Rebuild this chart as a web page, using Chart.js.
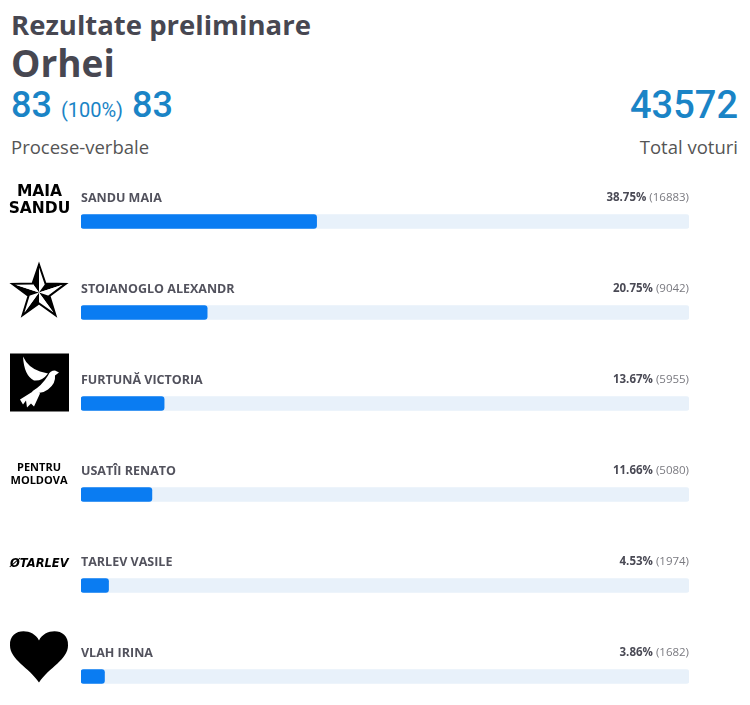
<!DOCTYPE html>
<html>
<head>
<meta charset="utf-8">
<script src="https://cdn.jsdelivr.net/npm/chart.js@4"></script>
<style>
  html, body { margin:0; padding:0; width:750px; height:705px; overflow:hidden; background:#fff; }
  .t { position:absolute; white-space:nowrap; line-height:1; }
  #title { left:11px; top:6px; font:bold 27.5px "Open Sans", sans-serif; color:#474751; }
  #place { left:11px; top:37px; font:bold 37px "Open Sans", sans-serif; color:#474751; }
  #counted { left:11px; top:84px; font:500 36px Roboto, sans-serif; color:#1a84c6; }
  #counted small { font-size:20px; font-weight:400; }
  #total { right:12px; top:83px; font:500 38px Roboto, sans-serif; color:#1a84c6; }
  #lbl1 { left:11px; top:134px; font:18.5px "Open Sans", sans-serif; color:#555; }
  #lbl2 { right:12px; top:134px; font:18.5px "Open Sans", sans-serif; color:#555; }
  #wrap { position:absolute; left:0; top:176px; width:750px; height:546px; }
</style>
</head>
<body>
<div class="t" id="title">Rezultate preliminare</div>
<div class="t" id="place">Orhei</div>
<div class="t" id="counted">83 <small>(100%)</small> 83</div>
<div class="t" id="total">43572</div>
<div class="t" id="lbl1">Procese-verbale</div>
<div class="t" id="lbl2">Total voturi</div>
<div id="wrap"><canvas id="c"></canvas></div>
<script>
const candidates = ["SANDU MAIA", "STOIANOGLO ALEXANDR", "FURTUNĂ VICTORIA", "USATÎI RENATO", "TARLEV VASILE", "VLAH IRINA"];
const percents = [38.75, 20.75, 13.67, 11.66, 4.53, 3.86];
const votes = [16883, 9042, 5955, 5080, 1974, 1682];
const trackValues = [100, 100, 100, 100, 100, 100];
const logos = ["maia", "star", "dove", "pentru", "tarlev", "heart"];

function drawLogo(ctx, kind, cy) {
  ctx.save();
  ctx.fillStyle = "#000";
  ctx.strokeStyle = "#000";
  ctx.textAlign = "center";
  ctx.textBaseline = "middle";
  if (kind === "maia") {
    ctx.font = 'bold 15.5px "DejaVu Sans", sans-serif';
    ctx.fillText("MAIA", 39.5, cy - 30);
    ctx.fillText("SANDU", 39.5, cy - 13);
  } else if (kind === "pentru") {
    ctx.font = 'bold 11px "Open Sans", sans-serif';
    ctx.fillText("PENTRU", 39, cy - 27);
    ctx.fillText("MOLDOVA", 39, cy - 14);
  } else if (kind === "tarlev") {
    ctx.font = 'bold oblique 11.5px "DejaVu Sans", sans-serif';
    ctx.textAlign = "left";
    ctx.fillText("ØTARLEV", 10, cy - 21);
  } else if (kind === "star") {
    const cx = 39, sy = cy - 20, R = 28, r = 11;
    const pt = (a, rad) => [cx + rad * Math.cos(a), sy + rad * Math.sin(a)];
    for (let i = 0; i < 5; i++) {
      const a = -Math.PI / 2 + i * 2 * Math.PI / 5;
      const P = pt(a, R), Qm = pt(a - Math.PI / 5, r), Qp = pt(a + Math.PI / 5, r);
      ctx.beginPath(); ctx.moveTo(cx, sy); ctx.lineTo(Qm[0], Qm[1]); ctx.lineTo(P[0], P[1]); ctx.closePath();
      ctx.fillStyle = "#000"; ctx.fill();
      ctx.beginPath(); ctx.moveTo(cx, sy); ctx.lineTo(P[0], P[1]); ctx.lineTo(Qp[0], Qp[1]); ctx.closePath();
      ctx.fillStyle = "#fff"; ctx.fill();
    }
    ctx.beginPath();
    for (let i = 0; i < 10; i++) {
      const a = -Math.PI / 2 + i * Math.PI / 5;
      const p = pt(a, i % 2 ? r : R);
      if (i === 0) ctx.moveTo(p[0], p[1]); else ctx.lineTo(p[0], p[1]);
    }
    ctx.closePath(); ctx.lineWidth = 2; ctx.lineJoin = "miter"; ctx.stroke();
  } else if (kind === "dove") {
    const y0 = cy - 50;
    ctx.fillRect(10, y0, 59, 58);
    ctx.fillStyle = "#fff";
    ctx.translate(10, y0);
    ctx.beginPath();
    ctx.moveTo(13, 3); ctx.quadraticCurveTo(18, 14, 30, 18);
    ctx.lineTo(38, 20); ctx.quadraticCurveTo(32, 28, 24, 27);
    ctx.quadraticCurveTo(14, 22, 13, 3); ctx.fill();
    ctx.beginPath();
    ctx.moveTo(49, 19); ctx.lineTo(45, 17); ctx.quadraticCurveTo(40, 17, 38, 22);
    ctx.quadraticCurveTo(32, 32, 22, 38);
    ctx.quadraticCurveTo(30, 42, 38, 36);
    ctx.quadraticCurveTo(46, 30, 45, 22); ctx.closePath(); ctx.fill();
    ctx.beginPath();
    ctx.moveTo(26, 36); ctx.lineTo(10, 46); ctx.lineTo(13, 51); ctx.lineTo(16, 47);
    ctx.lineTo(17, 54); ctx.lineTo(21, 50); ctx.lineTo(24, 53); ctx.lineTo(30, 40); ctx.closePath(); ctx.fill();
  } else if (kind === "heart") {
    const cx = 39, top = cy - 43, w = 29, h = 49;
    ctx.beginPath();
    ctx.moveTo(cx, top + 7);
    ctx.bezierCurveTo(cx - 6, top - 6, cx - w - 1, top - 6, cx - w, top + 12);
    ctx.bezierCurveTo(cx - w, top + 26, cx - 10, top + 34, cx, top + h);
    ctx.bezierCurveTo(cx + 10, top + 34, cx + w, top + 26, cx + w, top + 12);
    ctx.bezierCurveTo(cx + w + 1, top - 6, cx + 6, top - 6, cx, top + 7);
    ctx.closePath(); ctx.fill();
  }
  ctx.restore();
}

const labelPlugin = {
  id: "labels",
  afterDatasetsDraw(chart) {
    const ctx = chart.ctx;
    const meta = chart.getDatasetMeta(1);
    const right = chart.chartArea.right, left = chart.chartArea.left;
    meta.data.forEach((bar, i) => {
      const y = bar.y;
      ctx.save();
      ctx.textBaseline = "middle";
      ctx.font = 'bold 12.5px "Open Sans", sans-serif';
      ctx.fillStyle = "#52525d";
      ctx.textAlign = "left";
      ctx.fillText(candidates[i], left, y - 23.5);
      ctx.textAlign = "right";
      ctx.font = '11.5px "Open Sans", sans-serif';
      ctx.fillStyle = "#7a7a80";
      const vtxt = "(" + votes[i] + ")";
      ctx.fillText(vtxt, right, y - 23.5);
      const vw = ctx.measureText(vtxt).width;
      ctx.font = 'bold 11.5px "Open Sans", sans-serif';
      ctx.fillStyle = "#4a4a55";
      ctx.fillText(percents[i].toFixed(2) + "%", right - vw - 3, y - 23.5);
      ctx.restore();
      drawLogo(ctx, logos[i], y);
    });
  }
};

new Chart(document.getElementById("c"), {
  type: "bar",
  data: {
    labels: candidates,
    datasets: [
      { data: percents, backgroundColor: "#0a7cf2", barThickness: 14, borderRadius: 3, borderSkipped: false, grouped: false, order: 0 },
      { data: trackValues, backgroundColor: "#e8f1fa", barThickness: 14, borderRadius: 3, borderSkipped: false, grouped: false, order: 1 }
    ]
  },
  options: {
    indexAxis: "y",
    responsive: true,
    maintainAspectRatio: false,
    animation: false,
    layout: { padding: { left: 81, right: 61, top: 0, bottom: 0 } },
    scales: {
      x: { display: false, min: 0, max: 100 },
      y: { display: false }
    },
    plugins: { legend: { display: false }, tooltip: { enabled: false } }
  },
  plugins: [labelPlugin]
});
</script>
</body>
</html>
